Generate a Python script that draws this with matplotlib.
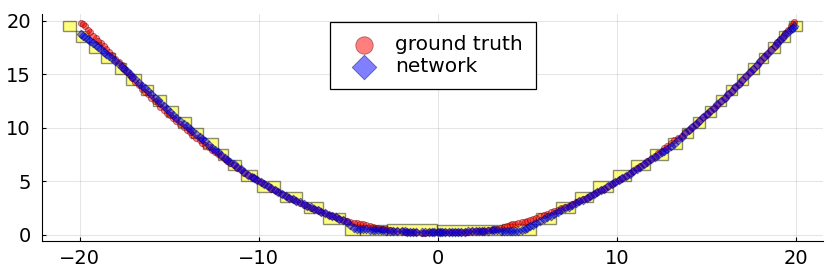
import matplotlib.pyplot as plt

# sample positions (shared by ground truth and network output)
x = [-19.9, -19.7, -19.4, -19.1, -18.8, -18.5, -18.2, -17.8, -17.5, -17.2,
     -16.9, -16.5, -16.2, -15.8, -15.5, -15.1, -14.8, -14.4, -14.0, -13.7,
     -13.3, -13.0, -12.6, -12.3, -11.9, -11.6, -11.2, -10.8, -10.4, -10.1,
     -9.7, -9.3, -8.9, -8.5, -8.1, -7.7, -7.3, -6.9, -6.5, -6.1,
     -5.7, -5.3, -4.9,
     -4.5, -4.2, -3.8, -3.5, -3.2, -2.9, -2.5, -2.0, -1.7, -1.4,
     -0.9, -0.5, -0.2, 0.1, 0.4, 0.8, 1.1, 1.5, 1.9, 2.3,
     2.6, 3.0, 3.3, 3.7, 4.0, 4.3,
     4.7, 5.0, 5.3, 5.7, 6.1, 6.5, 6.9, 7.3, 7.7, 8.1,
     8.5, 8.9, 9.3, 9.7, 10.1, 10.5, 10.9, 11.3, 11.7, 12.1,
     12.5, 12.8, 13.2, 13.6, 14.0, 14.4, 14.8, 15.2, 15.6, 16.0,
     16.4, 16.8, 17.2, 17.6, 18.0, 18.4, 18.8, 19.1, 19.4, 19.7, 19.9,
     # second batch
     -19.8, -19.55, -19.25, -18.95, -18.65, -18.35, -18.0, -17.65, -17.35, -17.05,
     -16.7, -16.35, -16.0, -15.65, -15.3, -14.95, -14.6, -14.2, -13.85, -13.5,
     -13.15, -12.8, -12.45, -12.1, -11.75, -11.4, -11.0, -10.6, -10.25, -9.9,
     -9.5, -9.1, -8.7, -8.3, -7.9, -7.5, -7.1, -6.7, -6.3, -5.9,
     -5.5, -5.1,
     -4.7, -4.35, -4.0, -3.65, -3.35, -3.05, -2.7, -2.3, -1.85, -1.55,
     -1.2, -0.7, -0.35, 0.0, 0.25, 0.6, 0.95, 1.3, 1.7, 2.1,
     2.45, 2.8, 3.15, 3.5, 3.85, 4.15, 4.5,
     4.85, 5.15, 5.5, 5.9, 6.3, 6.7, 7.1, 7.5, 7.9, 8.3,
     8.7, 9.1, 9.5, 9.9, 10.3, 10.7, 11.1, 11.5, 11.9, 12.3,
     12.65, 13.0, 13.4, 13.8, 14.2, 14.6, 15.0, 15.4, 15.8, 16.2,
     16.6, 17.0, 17.4, 17.8, 18.2, 18.6, 18.95, 19.25, 19.55, 19.8]

y_truth = [19.8, 19.5, 18.9, 18.4, 17.9, 17.3, 16.8, 16.1, 15.5, 14.9,
           14.3, 13.6, 13.1, 12.5, 11.95, 11.35, 10.9, 10.3, 9.75, 9.3,
           8.8, 8.4, 7.9, 7.5, 7.05, 6.7, 6.25, 5.8, 5.4, 5.1,
           4.7, 4.3, 3.95, 3.6, 3.3, 2.95, 2.65, 2.35, 2.1, 1.85,
           1.6, 1.4, 1.2,
           1.05, 0.95, 0.8, 0.65, 0.55, 0.5, 0.35, 0.3, 0.25, 0.22,
           0.18, 0.2, 0.22, 0.2, 0.2, 0.22, 0.25, 0.25, 0.3, 0.32,
           0.38, 0.45, 0.55, 0.75, 0.9, 1.0,
           1.15, 1.3, 1.45, 1.7, 1.95, 2.2, 2.45, 2.7, 3.0, 3.3,
           3.6, 3.95, 4.3, 4.7, 5.1, 5.5, 5.95, 6.4, 6.85, 7.3,
           7.85, 8.3, 8.8, 9.25, 9.8, 10.35, 10.95, 11.55, 12.15, 12.8,
           13.45, 14.1, 14.8, 15.5, 16.2, 16.9, 17.65, 18.25, 18.8, 19.45, 19.9,
           # second batch
           19.65, 19.1, 18.6, 18.1, 17.6, 17.05, 16.4, 15.8, 15.2, 14.6,
           14.0, 13.35, 12.8, 12.25, 11.65, 11.15, 10.6, 10.05, 9.55, 9.05,
           8.6, 8.15, 7.7, 7.3, 6.9, 6.5, 6.05, 5.6, 5.25, 4.9,
           4.5, 4.15, 3.8, 3.45, 3.1, 2.8, 2.5, 2.25, 2.0, 1.75,
           1.5, 1.3,
           1.12, 1.0, 0.9, 0.72, 0.6, 0.52, 0.42, 0.32, 0.28, 0.24,
           0.2, 0.18, 0.2, 0.2, 0.2, 0.2, 0.24, 0.25, 0.28, 0.3,
           0.35, 0.42, 0.5, 0.65, 0.82, 0.95, 1.08,
           1.22, 1.38, 1.58, 1.82, 2.08, 2.32, 2.58, 2.85, 3.15, 3.45,
           3.78, 4.12, 4.5, 4.9, 5.3, 5.72, 6.18, 6.62, 7.08, 7.58,
           8.05, 8.55, 9.05, 9.55, 10.08, 10.65, 11.25, 11.85, 12.48, 13.12,
           13.78, 14.45, 15.15, 15.85, 16.55, 17.3, 17.95, 18.5, 19.1, 19.65]

y_network = [18.7, 18.5, 18.1, 17.7, 17.3, 16.9, 16.5, 15.9, 15.5, 15.0,
             14.5, 13.9, 13.4, 12.8, 12.3, 11.7, 11.2, 10.6, 10.1, 9.7,
             9.1, 8.7, 8.1, 7.7, 7.2, 6.8, 6.3, 5.85, 5.4, 5.1,
             4.7, 4.35, 3.95, 3.6, 3.3, 3.0, 2.7, 2.4, 2.1, 1.85,
             1.6, 1.35, 0.9,
             0.55, 0.5, 0.45, 0.4, 0.4, 0.38, 0.35, 0.3, 0.28, 0.28,
             0.25, 0.22, 0.22, 0.2, 0.22, 0.22, 0.25, 0.28, 0.3, 0.32,
             0.35, 0.4, 0.45, 0.32, 0.3, 0.3,
             0.45, 0.65, 0.9, 1.3, 1.6, 1.95, 2.3, 2.6, 2.95, 3.25,
             3.6, 3.95, 4.3, 4.7, 5.1, 5.5, 5.9, 6.35, 6.8, 7.25,
             7.7, 8.0, 8.5, 9.1, 9.75, 10.35, 10.95, 11.55, 12.2, 12.8,
             13.45, 14.1, 14.8, 15.5, 16.2, 16.9, 17.6, 18.2, 18.7, 19.2, 19.5,
             # second batch
             18.6, 18.3, 17.9, 17.5, 17.1, 16.7, 16.2, 15.7, 15.25, 14.75,
             14.2, 13.65, 13.1, 12.55, 12.0, 11.45, 10.9, 10.35, 9.9, 9.4,
             8.9, 8.4, 7.9, 7.45, 7.0, 6.55, 6.1, 5.6, 5.25, 4.9,
             4.5, 4.15, 3.8, 3.45, 3.15, 2.85, 2.55, 2.25, 2.0, 1.72,
             1.48, 1.2,
             0.6, 0.52, 0.48, 0.42, 0.4, 0.4, 0.36, 0.32, 0.3, 0.28,
             0.26, 0.24, 0.22, 0.2, 0.2, 0.22, 0.24, 0.26, 0.29, 0.31,
             0.33, 0.38, 0.42, 0.38, 0.3, 0.3, 0.35,
             0.55, 0.78, 1.1, 1.45, 1.78, 2.12, 2.45, 2.78, 3.1, 3.42,
             3.78, 4.12, 4.5, 4.9, 5.3, 5.7, 6.12, 6.58, 7.02, 7.48,
             7.85, 8.25, 8.8, 9.45, 10.05, 10.65, 11.25, 11.85, 12.5, 13.12,
             13.78, 14.45, 15.15, 15.85, 16.55, 17.25, 17.9, 18.45, 18.95, 19.35]

# yellow cells: x start, x end, y start, y end
box_x0 = [-20.9, -20.2, -19.5, -18.8, -18.0, -17.4, -16.6, -15.9, -15.2, -14.5,
          -13.8, -13.1, -12.3, -11.7, -11.0, -10.1, -8.8, -7.5, -6.4, -5.2,
          -4.35, -2.85, -0.05, 3.6, 5.5, 6.6, 7.65, 8.65, 9.8, 10.8,
          11.85, 12.85, 13.6, 14.25, 14.9, 15.5, 16.1, 16.7, 17.3, 17.9,
          18.45, 19.05, 19.6]
box_x1 = [-20.2, -19.5, -18.8, -18.0, -17.4, -16.6, -15.9, -15.2, -14.5, -13.8,
          -13.1, -12.3, -11.7, -11.0, -10.1, -8.8, -7.6, -6.4, -5.2, -4.35,
          -2.85, -0.05, 3.6, 5.5, 6.6, 7.65, 8.65, 9.8, 10.8, 11.85,
          12.85, 13.6, 14.25, 14.9, 15.5, 16.1, 16.7, 17.3, 17.9, 18.45,
          19.1, 19.65, 20.3]
box_y0 = [19, 18, 17, 16, 15, 14, 13, 12, 11, 10,
          9, 8, 7, 6, 5, 4, 3, 2, 1, 0,
          0, 0, 0, 0, 1, 2, 3, 4, 5, 6,
          7, 8, 9, 10, 11, 12, 13, 14, 15, 16,
          17, 18, 19]
box_y1 = [20, 19, 18, 17, 16, 15, 14, 13, 12, 11,
          10, 9, 8, 7, 6, 5, 4, 3, 2, 1,
          0.9, 1, 0.9, 1, 2, 3, 4, 5, 6, 7,
          8, 9, 10, 11, 12, 13, 14, 15, 16, 17,
          18, 19, 20]


def draw():
    fig = plt.figure(figsize=(8.3, 2.77), dpi=100)
    ax = fig.add_axes([0.0506, 0.130, 0.941, 0.819])

    widths = [b - a for a, b in zip(box_x0, box_x1)]
    heights = [b - a for a, b in zip(box_y0, box_y1)]
    ax.bar(box_x0, heights, width=widths, bottom=box_y0, align='edge',
           facecolor=(1, 1, 0, 0.5), edgecolor=(0, 0, 0, 0.45), linewidth=1.0, zorder=2)

    ax.scatter(x, y_truth, s=20, marker='o', facecolor=(1, 0, 0, 0.5),
               edgecolor=(0.4, 0, 0, 0.5), linewidth=0.6, zorder=3, label='ground truth')
    ax.scatter(x, y_network, s=20, marker='D', facecolor=(0, 0, 1, 0.5),
               edgecolor=(0, 0, 0.4, 0.5), linewidth=0.6, zorder=4, label='network')

    ax.set_xlim(-22.1, 21.5)
    ax.set_ylim(-0.6, 20.6)
    ax.set_xticks([-20, -10, 0, 10, 20])
    ax.set_yticks([0, 5, 10, 15, 20])
    ax.set_xticklabels(['\u221220', '\u221210', '0', '10', '20'])
    ax.tick_params(labelsize=14, direction='in', length=3, width=0.8)
    ax.tick_params(axis='y', pad=8)
    ax.tick_params(axis='x', pad=6)
    ax.grid(True, color='black', alpha=0.1, linewidth=0.8)
    ax.set_axisbelow(True)
    for side in ['top', 'right']:
        ax.spines[side].set_visible(False)

    leg = fig.legend(loc='upper left', bbox_to_anchor=(0.3976, 0.9206), borderaxespad=0,
                     fontsize=14.5, markerscale=2.8, fancybox=False, framealpha=1,
                     edgecolor='black', handletextpad=0.5, labelspacing=0.15,
                     borderpad=0.65, handlelength=2.1)
    leg.get_frame().set_linewidth(0.9)

    fig.savefig('out.png', dpi=100)


if __name__ == '__main__':
    draw()
